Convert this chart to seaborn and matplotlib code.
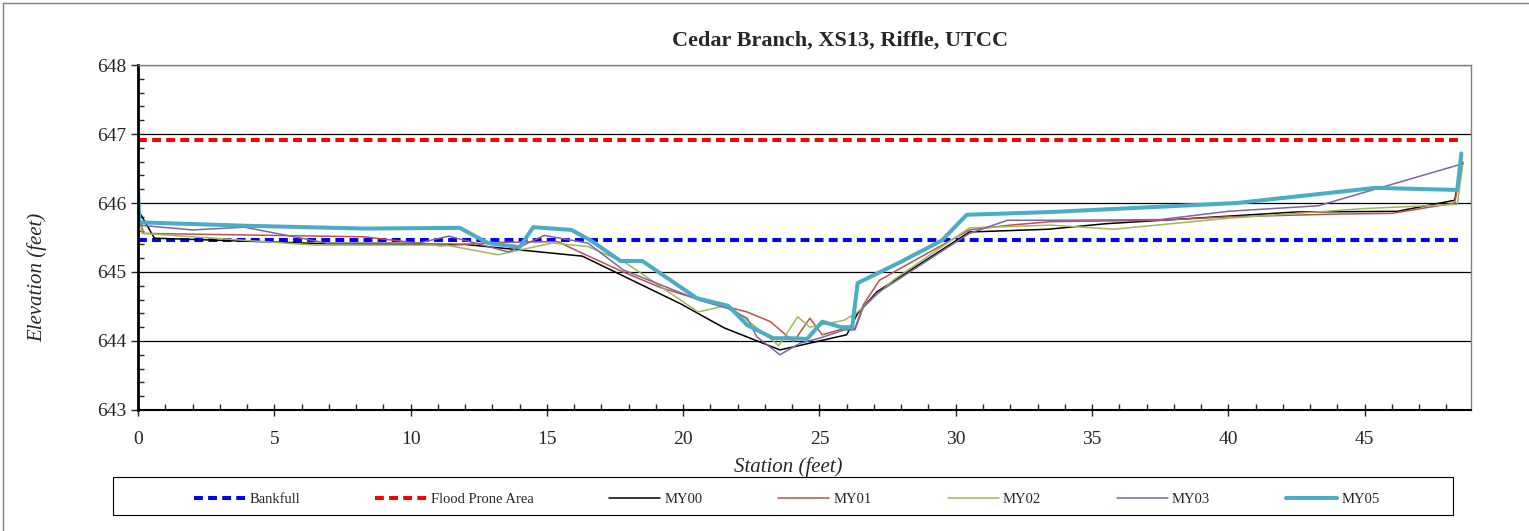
import matplotlib
matplotlib.use('Agg')
import matplotlib.pyplot as plt
from matplotlib.lines import Line2D
from matplotlib.patches import Rectangle
from matplotlib.ticker import MultipleLocator
import seaborn as sns

# bankfull / flood prone elevations
bankfull_x = [0, 48.6]
bankfull_y = [645.47, 645.47]
flood_x = [0, 48.6]
flood_y = [646.92, 646.92]

my00_x = [0, 0.6, 6.9, 12.0, 14.0, 16.3, 19.9, 21.5, 23.55, 26.0, 26.4, 27.1, 30.5, 33.4, 35.5,
          40.0, 42.5, 46.2, 48.3, 48.6]
my00_y = [645.9, 645.49, 645.41, 645.4, 645.32, 645.23, 644.54, 644.19, 643.87, 644.09, 644.4, 644.71,
          645.58, 645.62, 645.7, 645.81, 645.87, 645.88, 646.04, 646.58]

my01_x = [0, 0.2, 8.3, 11.1, 13.2, 15.4, 16.2, 17.8, 19.2, 20.6, 22.35, 23.2, 24.05, 24.65, 25.1,
          25.9, 26.3, 26.6, 27.2, 28.0, 30.5, 32.0, 33.5, 37.5, 40.0, 44.0, 46.0, 48.3, 48.6]
my01_y = [645.87, 645.56, 645.51, 645.38, 645.43, 645.44, 645.29, 645.0, 644.77, 644.6, 644.42, 644.28,
          643.99, 644.33, 644.09, 644.18, 644.18, 644.52, 644.88, 645.06, 645.61, 645.68, 645.73,
          645.75, 645.8, 645.84, 645.85, 646.0, 646.6]

my02_x = [0, 0.15, 6.5, 11.3, 13.2, 15.2, 16.5, 17.9, 20.55, 21.65, 23.4, 23.5, 24.2, 24.65, 25.9,
          26.4, 27.7, 30.5, 33.5, 35.8, 40.0, 45.0, 48.4, 48.6]
my02_y = [645.87, 645.56, 645.39, 645.39, 645.25, 645.42, 645.37, 645.13, 644.42, 644.52, 643.97,
          643.93, 644.35, 644.2, 644.3, 644.42, 644.88, 645.64, 645.68, 645.62, 645.78, 645.92,
          645.98, 646.55]

my03_x = [0, 2.0, 3.9, 6.9, 10.3, 11.4, 13.6, 14.9, 16.5, 17.8, 20.6, 21.65, 22.35, 22.7, 23.55,
          24.3, 25.0, 25.9, 26.3, 26.6, 27.1, 30.5, 31.9, 33.5, 37.5, 40.0, 43.3, 48.6]
my03_y = [645.68, 645.61, 645.65, 645.42, 645.42, 645.52, 645.29, 645.53, 645.42, 645.03, 644.59,
          644.47, 644.33, 644.06, 643.8, 643.97, 644.04, 644.16, 644.16, 644.48, 644.69, 645.56,
          645.75, 645.75, 645.76, 645.88, 645.96, 646.57]

my05_x = [0, 0.05, 4.0, 8.3, 11.8, 12.84, 14.0, 14.5, 15.9, 16.6, 17.7, 18.5, 20.5, 21.65, 22.35,
          23.3, 23.9, 24.55, 25.1, 25.8, 26.2, 26.4, 28.0, 29.5, 30.4, 33.5, 40.3, 45.4, 48.4, 48.55]
my05_y = [646.15, 645.72, 645.67, 645.63, 645.64, 645.42, 645.36, 645.65, 645.61, 645.46, 645.16,
          645.16, 644.62, 644.51, 644.23, 644.04, 644.04, 644.03, 644.28, 644.2, 644.2, 644.84,
          645.15, 645.46, 645.83, 645.87, 646.0, 646.22, 646.19, 646.72]

sns.set_style('white')
plt.rcParams['font.family'] = ['Liberation Serif', 'DejaVu Serif']

fig = plt.figure(figsize=(15.29, 5.31), dpi=100)
ax = fig.add_axes([0.0903, 0.228, 0.8717, 0.6494])

dash = (0, (2.2, 1.3))
sns.lineplot(x=bankfull_x, y=bankfull_y, ax=ax, color='#0000FF', linewidth=2.9,
             linestyle=dash, label='Bankfull', estimator=None, sort=False)
sns.lineplot(x=flood_x, y=flood_y, ax=ax, color='#FF0000', linewidth=2.9,
             linestyle=dash, label='Flood Prone Area', estimator=None, sort=False)
sns.lineplot(x=my00_x, y=my00_y, ax=ax, color='black', linewidth=1.1, label='MY00',
             estimator=None, sort=False)
sns.lineplot(x=my01_x, y=my01_y, ax=ax, color='#C0504D', linewidth=1.1, label='MY01',
             estimator=None, sort=False)
sns.lineplot(x=my02_x, y=my02_y, ax=ax, color='#9BBB59', linewidth=1.1, label='MY02',
             estimator=None, sort=False)
sns.lineplot(x=my03_x, y=my03_y, ax=ax, color='#8064A2', linewidth=1.1, label='MY03',
             estimator=None, sort=False)
sns.lineplot(x=my05_x, y=my05_y, ax=ax, color='#4BACC6', linewidth=2.9, label='MY05',
             estimator=None, sort=False)

ax.set_xlim(0, 48.9)
ax.set_ylim(643, 648)
ax.xaxis.set_major_locator(MultipleLocator(5))
ax.xaxis.set_minor_locator(MultipleLocator(1))
ax.yaxis.set_major_locator(MultipleLocator(1))
ax.yaxis.set_minor_locator(MultipleLocator(0.2))
ax.tick_params(axis='x', which='major', direction='inout', length=8, width=1, labelsize=14, pad=11)
ax.tick_params(axis='x', which='minor', direction='in', length=4, width=1)
ax.tick_params(axis='y', which='major', direction='out', length=5, width=1, labelsize=14)
ax.tick_params(axis='y', which='minor', direction='in', length=4, width=1)
ax.tick_params(bottom=True, left=True, which='both')
ax.yaxis.grid(True, which='major', color='black', linewidth=0.9)
ax.set_axisbelow(True)

for side in ['top', 'right']:
    ax.spines[side].set_color('#808080')
    ax.spines[side].set_linewidth(1)
ax.spines['left'].set_color('black')
ax.spines['left'].set_linewidth(2)
ax.spines['bottom'].set_color('black')
ax.spines['bottom'].set_linewidth(1.5)

ax.set_title('Cedar Branch, XS13, Riffle, UTCC', fontsize=16, fontweight='bold', pad=14, x=0.527)
ax.set_xlabel('Station (feet)', fontsize=15, style='italic')
ax.set_ylabel('Elevation (feet)', fontsize=15, style='italic')
ax.xaxis.set_label_coords(0.488, -0.138)
ax.yaxis.set_label_coords(-0.068, 0.385)

handles, labels = ax.get_legend_handles_labels()
ax.get_legend().remove()
leg = fig.legend(handles, labels, loc='lower left', bbox_to_anchor=(0.121, 0.03, 0.787, 0.085),
                 ncol=7, mode='expand', fontsize=10.5, handlelength=3.5, handletextpad=0.3,
                 frameon=False, borderaxespad=0, borderpad=0.6)

# legend box and outer chart border
fig.add_artist(Rectangle((0.0739, 0.030), 0.8764, 0.072, transform=fig.transFigure,
                         fill=False, edgecolor='black', linewidth=0.8))
fig.add_artist(Line2D([0.002, 0.002], [0, 0.995], transform=fig.transFigure, color='#808080', lw=1))
fig.add_artist(Line2D([0.002, 1], [0.995, 0.995], transform=fig.transFigure, color='#808080', lw=1))

fig.savefig('out.png', dpi=100)
